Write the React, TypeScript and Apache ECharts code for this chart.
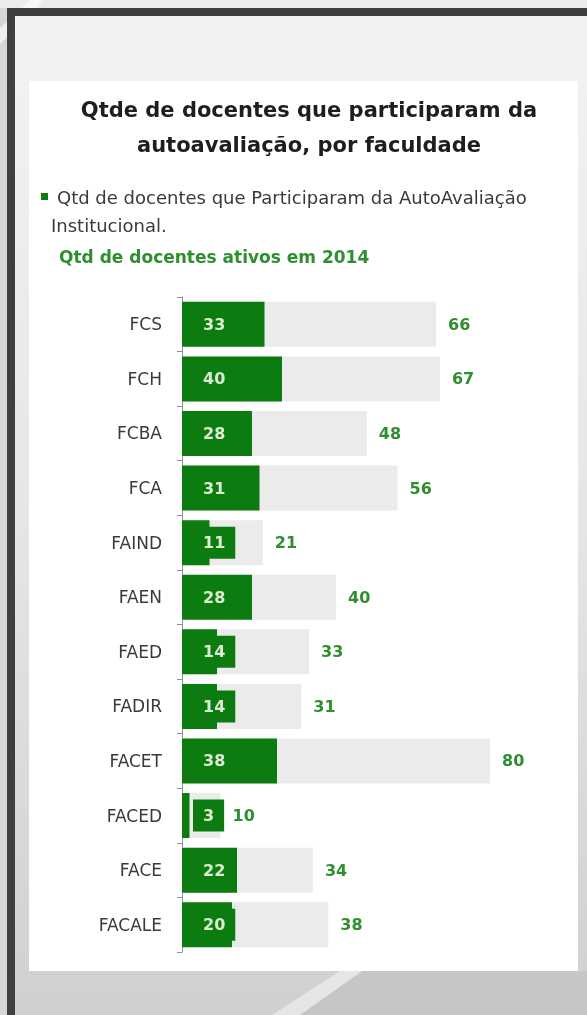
import React, { useEffect, useRef } from "react";
import * as echarts from "echarts";

const categories = ["FCS", "FCH", "FCBA", "FCA", "FAIND", "FAEN", "FAED", "FADIR", "FACET", "FACED", "FACE", "FACALE"];
const participated = [33, 40, 28, 31, 11, 28, 14, 14, 38, 3, 22, 20];
const active = [66, 67, 48, 56, 21, 40, 33, 31, 80, 10, 34, 38];

const titleLines = ["Qtde de docentes que participaram da", "autoavaliação, por faculdade"];
const seriesParticipated = "Qtd de docentes que Participaram da AutoAvaliação Institucional.";
const legendLine1 = "Qtd de docentes que Participaram da AutoAvaliação";
const legendLine2 = "Institucional.";
const seriesActive = "Qtd de docentes ativos em 2014";

const GREEN = "#0c7c10";
const FONT = "DejaVu Sans";

export default function App() {
  const ref = useRef<HTMLDivElement>(null);
  useEffect(() => {
    if (!ref.current) return;
    const chart = echarts.init(ref.current, null, { renderer: "svg" });
    chart.setOption({
      animation: false,
      backgroundColor: "transparent",
      title: {
        text: titleLines.join("\n"),
        left: 304,
        top: 87,
        textAlign: "center",
        textStyle: {
          fontFamily: FONT,
          fontWeight: "bold",
          fontSize: 21,
          lineHeight: 35,
          color: "#1e1e1e",
        },
      },
      graphic: [
        { type: "rect", z: -20, shape: { x: 0, y: 0, width: 587, height: 1015 }, style: { fill: "#d6d6d6" } },
        { type: "rect", z: -20, shape: { x: 0, y: 0, width: 587, height: 8 }, style: { fill: "#ebebeb" } },
        { type: "polygon", z: -19, shape: { points: [[0, 28], [30, 0], [44, 0], [0, 44]] }, style: { fill: "rgba(255,255,255,0.6)" } },
        {
          type: "rect", z: -18, shape: { x: 15, y: 16, width: 572, height: 999 },
          style: {
            fill: new echarts.graphic.LinearGradient(0, 0, 0, 1, [
              { offset: 0, color: "#f3f3f3" },
              { offset: 0.5, color: "#e6e6e6" },
              { offset: 1, color: "#d0d0d0" },
            ]),
          },
        },
        { type: "polygon", z: -17, shape: { points: [[362, 971], [587, 971], [587, 1015], [300, 1015]] }, style: { fill: "rgba(0,0,0,0.05)" } },
        { type: "polygon", z: -17, shape: { points: [[340, 971], [362, 971], [300, 1015], [272, 1015]] }, style: { fill: "rgba(255,255,255,0.45)" } },
        { type: "rect", z: -16, shape: { x: 7, y: 8, width: 580, height: 8 }, style: { fill: "#3f3f3f" } },
        { type: "rect", z: -16, shape: { x: 7, y: 8, width: 8, height: 1007 }, style: { fill: "#3f3f3f" } },
        { type: "rect", z: -15, shape: { x: 29, y: 81, width: 549, height: 890 }, style: { fill: "#ffffff" } },
        { type: "rect", shape: { x: 41, y: 193, width: 7, height: 7 }, style: { fill: GREEN } },
        {
          type: "text", x: 57, y: 197,
          style: { text: legendLine1, fontFamily: FONT, fontSize: 18, fill: "#3a3a3a", verticalAlign: "middle" },
        },
        {
          type: "text", x: 51, y: 225,
          style: { text: legendLine2, fontFamily: FONT, fontSize: 18, fill: "#3a3a3a", verticalAlign: "middle" },
        },
        {
          type: "text", x: 59, y: 257,
          style: { text: seriesActive, fontFamily: FONT, fontSize: 17, fontWeight: "bold", fill: "#2f8f2f", verticalAlign: "middle" },
        },
      ],
      grid: { left: 182, top: 297, width: 385, height: 655, containLabel: false },
      xAxis: [
        { type: "value", min: 0, max: 154, show: false },
        { type: "value", min: 0, max: 100, show: false },
      ],
      yAxis: {
        type: "category",
        data: categories,
        inverse: true,
        axisLine: { show: true, lineStyle: { color: "#8a8fa0", width: 1 } },
        axisTick: { show: true, length: 5, lineStyle: { color: "#8a8fa0" } },
        axisLabel: { margin: 20, fontFamily: FONT, fontSize: 17, color: "#3a3a3a" },
        splitLine: { show: false },
      },
      series: [
        {
          name: seriesActive,
          type: "bar",
          xAxisIndex: 1,
          data: active,
          barWidth: 45,
          barGap: "-100%",
          itemStyle: { color: "#ebebeb" },
          label: {
            show: true,
            position: "right",
            distance: 12,
            fontFamily: FONT,
            fontSize: 16,
            fontWeight: "bold",
            color: "#2f8f2f",
          },
        },
        {
          name: seriesParticipated,
          type: "bar",
          xAxisIndex: 0,
          data: participated,
          barWidth: 45,
          barGap: "-100%",
          itemStyle: { color: GREEN },
          label: {
            show: true,
            position: "insideLeft",
            distance: 11,
            fontFamily: FONT,
            fontSize: 16,
            fontWeight: "bold",
            color: "#dcecd2",
            backgroundColor: GREEN,
            padding: [8, 10, 8, 10],
          },
        },
      ],
    });
    return () => chart.dispose();
  }, []);
  return <div ref={ref} style={{ position: "fixed", left: 0, top: 0, width: 587, height: 1015 }} />;
}
